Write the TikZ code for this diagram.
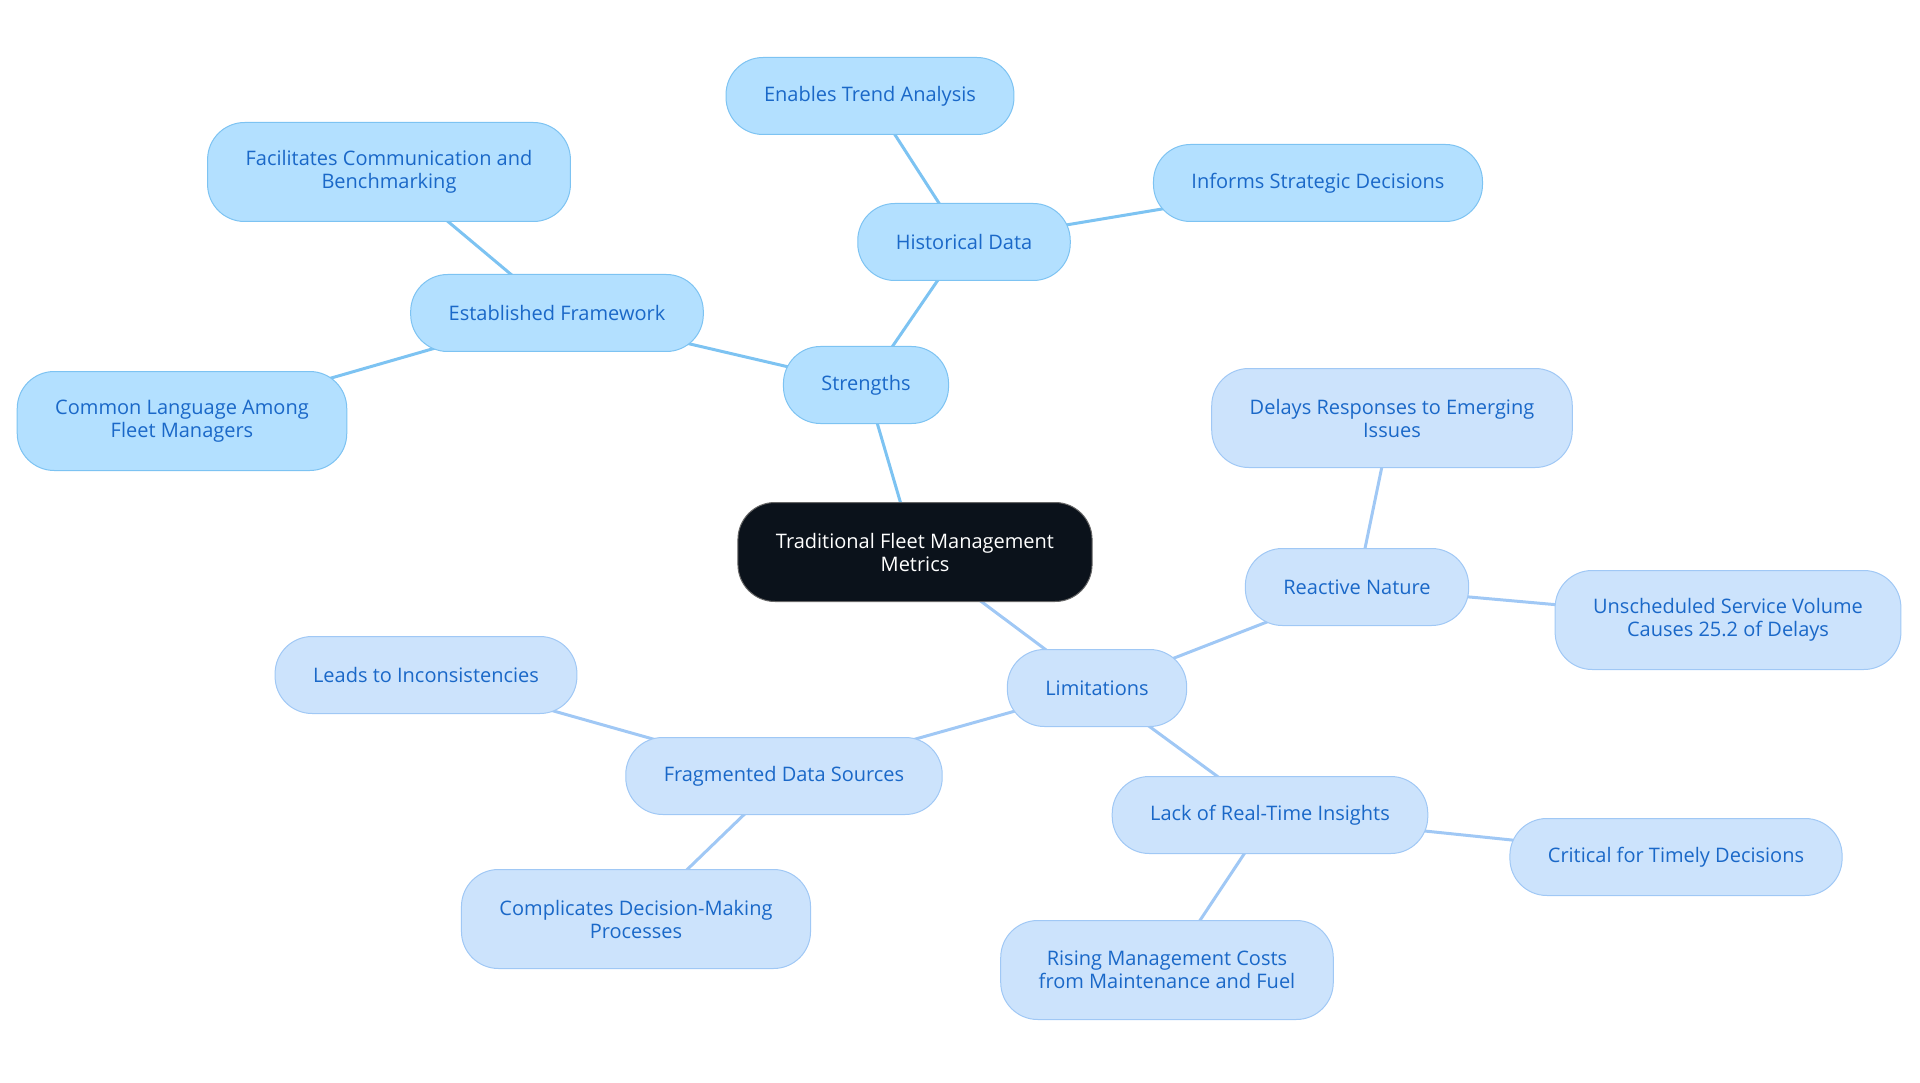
\documentclass[tikz,border=0pt]{standalone}
\usepackage{fontspec}
\setmainfont{Open Sans}
\usetikzlibrary{backgrounds}
\definecolor{rootfill}{HTML}{0B121B}
\definecolor{strfill}{HTML}{B3E0FF}
\definecolor{strline}{HTML}{7DC3F2}
\definecolor{limfill}{HTML}{CCE3FC}
\definecolor{limline}{HTML}{A0C8F5}
\definecolor{nodetext}{HTML}{1A68C8}
\tikzset{
  box/.style={rounded corners=37pt, minimum height=77pt, inner xsep=38pt,
    align=center, font=\fontsize{20}{23}\selectfont, line width=1pt},
  rootbox/.style={box, fill=rootfill, draw=black!60, text=white, minimum height=99pt},
  strbox/.style={box, fill=strfill, draw=strline, text=nodetext},
  limbox/.style={box, fill=limfill, draw=limline, text=nodetext},
  tall/.style={minimum height=99pt},
  strlink/.style={draw=strline, line width=3pt},
  limlink/.style={draw=limline, line width=3pt}
}
\begin{document}
\begin{tikzpicture}[x=1pt, y=-1pt]
    \useasboundingbox (0,0) rectangle (1920,1083);
    % centre
    \node[rootbox] (root) at (915,552) {Traditional Fleet Management\\Metrics};
    % strengths
    \node[strbox] (str) at (866,385) {Strengths};
    \node[strbox] (hist) at (964,242) {Historical Data};
    \node[strbox] (trend) at (870,96) {Enables Trend Analysis};
    \node[strbox] (informs) at (1318,183) {Informs Strategic Decisions};
    \node[strbox] (frame) at (557,313) {Established Framework};
    \node[strbox, tall] (comm) at (389,172) {Facilitates Communication and\\Benchmarking};
    \node[strbox, tall] (lang) at (182,421) {Common Language Among\\Fleet Managers};
    % limitations
    \node[limbox] (lim) at (1097,688) {Limitations};
    \node[limbox] (react) at (1357,587) {Reactive Nature};
    \node[limbox, tall] (delays) at (1392,418) {Delays Responses to Emerging\\Issues};
    \node[limbox, tall] (unsched) at (1728,620) {Unscheduled Service Volume\\Causes 25.2 of Delays};
    \node[limbox] (frag) at (784,776) {Fragmented Data Sources};
    \node[limbox] (incons) at (426,675) {Leads to Inconsistencies};
    \node[limbox, tall] (compl) at (636,919) {Complicates Decision-Making\\Processes};
    \node[limbox] (lack) at (1270,815) {Lack of Real-Time Insights};
    \node[limbox] (timely) at (1676,857) {Critical for Timely Decisions};
    \node[limbox, tall] (costs) at (1167,970) {Rising Management Costs\\from Maintenance and Fuel};
    % links
    \begin{scope}[on background layer]
    \draw[strlink] (root.center) -- (str.center);
    \draw[strlink] (str.center) -- (hist.center);
    \draw[strlink] (hist.center) -- (trend.center);
    \draw[strlink] (hist.center) -- (informs.center);
    \draw[strlink] (str.center) -- (frame.center);
    \draw[strlink] (frame.center) -- (comm.center);
    \draw[strlink] (frame.center) -- (lang.center);
    \draw[limlink] (root.center) -- (lim.center);
    \draw[limlink] (lim.center) -- (react.center);
    \draw[limlink] (react.center) -- (delays.center);
    \draw[limlink] (react.center) -- (unsched.center);
    \draw[limlink] (lim.center) -- (frag.center);
    \draw[limlink] (frag.center) -- (incons.center);
    \draw[limlink] (frag.center) -- (compl.center);
    \draw[limlink] (lim.center) -- (lack.center);
    \draw[limlink] (lack.center) -- (timely.center);
    \draw[limlink] (lack.center) -- (costs.center);
    \end{scope}
\end{tikzpicture}
\end{document}
